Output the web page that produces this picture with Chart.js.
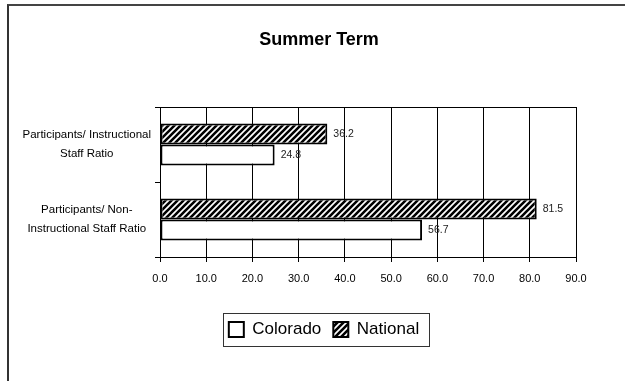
<!DOCTYPE html>
<html>
<head>
<meta charset="utf-8">
<script src="https://cdn.jsdelivr.net/npm/chart.js@4.4.1/dist/chart.umd.min.js"></script>
<style>
  html, body { margin: 0; padding: 0; background: #fff; }
  #wrap { position: absolute; left: 0; top: 0; width: 625px; height: 381px; overflow: hidden; }
  #frame { position: absolute; left: 7px; top: 4px; width: 700px; height: 500px; border-top: 2px solid #444; border-left: 2px solid #333; }
  #chart { position: absolute; left: 0; top: 0; }
</style>
</head>
<body>
<div id="wrap">
  <div id="frame"></div>
  <canvas id="chart" width="625" height="381"></canvas>
</div>
<script>
// data
const categories = [
  ['Participants/ Instructional', 'Staff Ratio'],
  ['Participants/ Non-', 'Instructional Staff Ratio']
];
const nationalValues = [36.2, 81.5];
const coloradoValues = [24.8, 56.7];
const xMin = 0;
const xMax = 90;
const xStep = 10;

const FONT = "'Liberation Sans', Arial, Helvetica, sans-serif";
Chart.defaults.font.family = FONT;
Chart.defaults.color = '#000';

const canvas = document.getElementById('chart');

// diagonal hatch used for the National bars
function makeHatch(ctx) {
  const s = 6;
  const c = document.createElement('canvas');
  c.width = s;
  c.height = s;
  const g = c.getContext('2d');
  g.fillStyle = '#fff';
  g.fillRect(0, 0, s, s);
  g.strokeStyle = '#000';
  g.lineWidth = 2.6;
  g.beginPath();
  g.moveTo(0, s); g.lineTo(s, 0);
  g.moveTo(-s / 2, s / 2); g.lineTo(s / 2, -s / 2);
  g.moveTo(s / 2, s * 1.5); g.lineTo(s * 1.5, s / 2);
  g.stroke();
  return ctx.createPattern(c, 'repeat');
}
const hatch = makeHatch(canvas.getContext('2d'));

// numbers printed after each bar
const valueLabels = {
  id: 'valueLabels',
  afterDatasetsDraw(chart) {
    const ctx = chart.ctx;
    ctx.save();
    ctx.font = '10.5px ' + FONT;
    ctx.fillStyle = '#222';
    ctx.textBaseline = 'middle';
    ctx.textAlign = 'left';
    chart.data.datasets.forEach((ds, i) => {
      chart.getDatasetMeta(i).data.forEach((bar, j) => {
        ctx.fillText(ds.data[j].toFixed(1), bar.x + 6, bar.y);
      });
    });
    ctx.restore();
  }
};

// top edge of the plot + box round the legend
const frameLines = {
  id: 'frameLines',
  afterLayout(chart) {
    // let the category labels use the space left of the layout padding
    chart.scales.y.left = 0;
    // legend sits a little right of the title in the original
    chart.legend.left += 5;
    chart.legend.right += 5;
  },
  afterDraw(chart) {
    const { ctx, chartArea: a, legend } = chart;
    ctx.save();
    ctx.strokeStyle = '#000';
    ctx.lineWidth = 1;
    ctx.beginPath();
    ctx.moveTo(a.left, Math.round(a.top) + 0.5);
    ctx.lineTo(a.right, Math.round(a.top) + 0.5);
    ctx.stroke();

    const boxes = legend.legendHitBoxes;
    if (boxes && boxes.length) {
      const l = Math.min(...boxes.map(b => b.left)) - 6;
      const r = Math.max(...boxes.map(b => b.left + b.width)) + 10;
      const t = Math.min(...boxes.map(b => b.top)) - 8;
      const btm = Math.max(...boxes.map(b => b.top + b.height)) + 8;
      ctx.strokeStyle = '#333';
      ctx.strokeRect(Math.round(l) + 0.5, Math.round(t) + 0.5, Math.round(r - l), Math.round(btm - t));
    }
    ctx.restore();
  }
};

new Chart(canvas, {
  type: 'bar',
  data: {
    labels: categories,
    datasets: [
      {
        label: 'National',
        data: nationalValues,
        backgroundColor: hatch,
        borderColor: '#000',
        borderWidth: 2,
        borderSkipped: false,
        categoryPercentage: 0.56,
        barPercentage: 1
      },
      {
        label: 'Colorado',
        data: coloradoValues,
        backgroundColor: '#fff',
        borderColor: '#000',
        borderWidth: 2,
        borderSkipped: false,
        categoryPercentage: 0.56,
        barPercentage: 1
      }
    ]
  },
  options: {
    indexAxis: 'y',
    responsive: false,
    animation: false,
    layout: { padding: { left: 62, right: 49, top: 0, bottom: 33 } },
    plugins: {
      title: {
        display: true,
        text: 'Summer Term',
        color: '#000',
        font: { size: 18, weight: 'bold' },
        padding: { top: 29, bottom: 56.4 }
      },
      legend: {
        position: 'bottom',
        reverse: true,
        labels: {
          color: '#000',
          font: { size: 17 },
          boxWidth: 15,
          boxHeight: 15,
          padding: 12
        }
      },
      tooltip: { enabled: false }
    },
    scales: {
      x: {
        min: xMin,
        max: xMax,
        ticks: {
          stepSize: xStep,
          callback: v => Number(v).toFixed(1),
          color: '#000',
          font: { size: 11 },
          padding: 10
        },
        grid: { color: '#000', tickLength: 5 },
        border: { color: '#000' },
        afterFit: s => { s.height = 52; }
      },
      y: {
        ticks: {
          color: '#000',
          font: { size: 11.5, lineHeight: 1.65 },
          crossAlign: 'center',
          padding: 4
        },
        grid: { color: '#000', drawOnChartArea: false, tickLength: 5 },
        border: { color: '#000' },
        afterFit: s => { s.width = 98; }
      }
    }
  },
  plugins: [valueLabels, frameLines]
});
</script>
</body>
</html>
